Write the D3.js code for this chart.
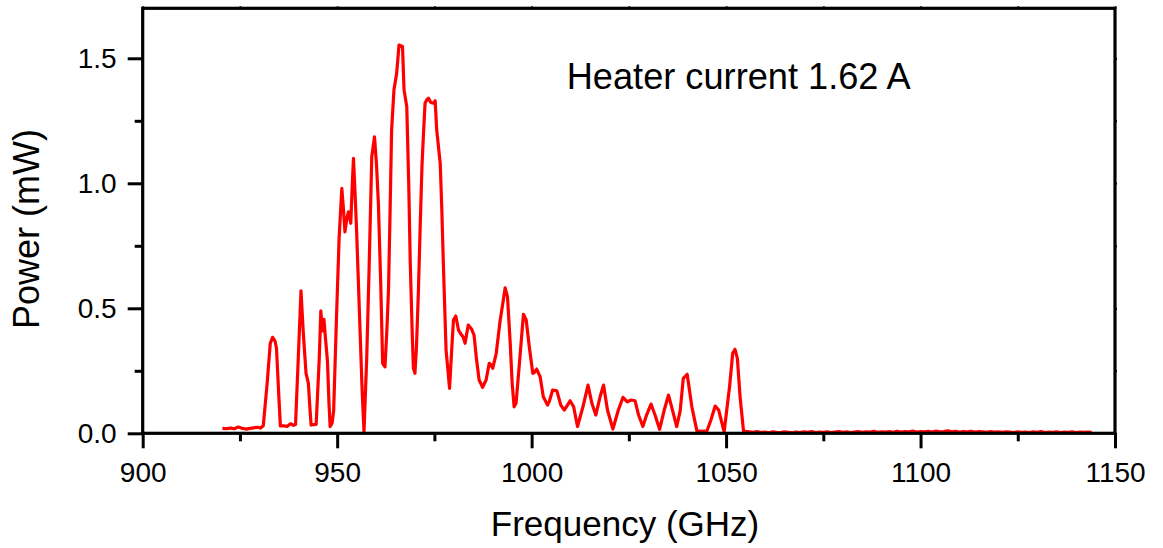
<!DOCTYPE html>
<html>
<head>
<meta charset="utf-8">
<script src="https://cdn.jsdelivr.net/npm/d3@7/dist/d3.min.js"></script>
<style>
  html, body { margin: 0; padding: 0; background: #fff; }
  svg { display: block; font-family: "Liberation Sans", Arial, sans-serif; }
</style>
</head>
<body>
<svg id="chart" width="1163" height="548"></svg>
<script>
// ---- data ----
const freqGHz = [
  920.5, 921.5, 922.7, 923.5, 924.6, 925.5, 926.5, 927.6, 928.5, 929.5, 930.3, 931.0,
  932.0, 932.8, 933.4, 934.0, 934.4, 935.0, 935.4, 936.3, 937.2, 938.0, 938.8, 939.3,
  940.0, 940.7, 941.3, 942.0, 942.6, 943.0, 943.3, 944.0, 944.6, 945.4, 945.8, 946.2,
  946.6, 947.0, 947.5, 947.9, 948.2, 948.7, 949.1, 949.8, 950.5, 951.2, 951.6, 952.0,
  952.5, 952.9, 953.5, 953.9, 954.2, 954.6, 955.0, 955.8, 956.4, 956.9, 957.6, 958.2,
  958.9, 959.6, 960.1, 960.6, 961.2, 961.7, 962.3, 962.8, 963.2, 963.6, 964.0, 964.6,
  965.3, 965.9, 966.8, 967.2, 967.9, 968.4, 968.8, 969.3, 969.6, 970.0, 970.4, 970.9,
  971.3, 971.8, 972.2, 972.6, 973.1, 973.5, 974.0, 974.3, 974.8, 975.2, 975.6, 976.5,
  976.9, 977.3, 978.0, 978.5, 978.9, 979.4, 979.9, 980.5, 981.2, 982.0, 982.4, 982.9,
  983.7, 984.6, 985.2, 985.8, 986.5, 987.4, 988.3, 989.1, 989.5, 990.0, 990.9, 991.9,
  992.6, 993.2, 993.8, 994.5, 995.0, 995.5, 996.0, 997.0, 997.9, 998.6, 999.4, 1000.3,
  1000.8, 1001.3, 1002.2, 1003.0, 1004.1, 1004.6, 1005.4, 1006.5, 1007.5, 1008.4, 1009.3, 1009.9,
  1010.8, 1011.8, 1013.2, 1014.5, 1015.5, 1016.5, 1017.6, 1018.5, 1019.5, 1020.9, 1022.3, 1023.5,
  1024.6, 1025.6, 1026.6, 1027.5, 1028.6, 1029.6, 1030.7, 1031.8, 1032.9, 1034.1, 1035.2, 1036.1,
  1037.3, 1038.2, 1039.0, 1040.0, 1041.2, 1042.5, 1043.8, 1045.1, 1046.1, 1047.2, 1048.1, 1049.5,
  1050.9, 1051.7, 1052.3, 1052.9, 1053.6, 1054.5, 1055.0,
  1056, 1057, 1058, 1059, 1060, 1061, 1062, 1063, 1064, 1065, 1066, 1067, 1068, 1069, 1070,
  1071, 1072, 1073, 1074, 1075, 1076, 1077, 1078, 1079, 1080, 1081, 1082, 1083, 1084, 1085,
  1086, 1087, 1088, 1089, 1090, 1091, 1092, 1093, 1094, 1095, 1096, 1097, 1098, 1099, 1100,
  1101, 1102, 1103, 1104, 1105, 1106, 1107, 1108, 1109, 1110, 1111, 1112, 1113, 1114, 1115,
  1116, 1117, 1118, 1119, 1120, 1121, 1122, 1123, 1124, 1125, 1126, 1127, 1128, 1129, 1130,
  1131, 1132, 1133, 1134, 1135, 1136, 1137, 1138, 1139, 1140, 1141, 1142, 1143, 1144
];
const powerMW = [
  0.020, 0.019, 0.021, 0.018, 0.025, 0.020, 0.017, 0.020, 0.022, 0.024, 0.021, 0.030,
  0.200, 0.360, 0.384, 0.370, 0.340, 0.150, 0.030, 0.030, 0.028, 0.038, 0.032, 0.035,
  0.300, 0.570, 0.400, 0.240, 0.200, 0.100, 0.033, 0.035, 0.036, 0.300, 0.490, 0.410,
  0.456, 0.380, 0.290, 0.120, 0.027, 0.040, 0.090, 0.450, 0.780, 0.980, 0.900, 0.806,
  0.860, 0.886, 0.840, 1.000, 1.100, 0.960, 0.810, 0.450, 0.180, 0.006, 0.300, 0.650,
  1.106, 1.186, 1.080, 0.920, 0.600, 0.280, 0.266, 0.420, 0.573, 0.880, 1.213, 1.373,
  1.440, 1.553, 1.547, 1.373, 1.306, 1.000, 0.680, 0.400, 0.260, 0.240, 0.350, 0.573,
  0.800, 1.066, 1.200, 1.320, 1.335, 1.340, 1.325, 1.322, 1.320, 1.330, 1.213, 1.080,
  0.900, 0.680, 0.333, 0.250, 0.180, 0.320, 0.453, 0.469, 0.413, 0.393, 0.385, 0.360,
  0.433, 0.416, 0.393, 0.300, 0.213, 0.184, 0.213, 0.280, 0.275, 0.260, 0.320, 0.450,
  0.520, 0.582, 0.546, 0.360, 0.200, 0.106, 0.120, 0.306, 0.476, 0.453, 0.346, 0.240,
  0.245, 0.257, 0.226, 0.146, 0.113, 0.130, 0.173, 0.170, 0.113, 0.093, 0.115, 0.130,
  0.106, 0.027, 0.106, 0.193, 0.120, 0.073, 0.146, 0.193, 0.093, 0.017, 0.093, 0.144,
  0.126, 0.133, 0.130, 0.073, 0.027, 0.075, 0.117, 0.070, 0.016, 0.093, 0.153, 0.100,
  0.027, 0.090, 0.220, 0.236, 0.106, 0.010, 0.008, 0.010, 0.053, 0.109, 0.093, 0.006,
  0.187, 0.320, 0.336, 0.300, 0.146, 0.006, 0.008,
  0.006, 0.004, 0.007, 0.003, 0.005, 0.002, 0.006, 0.004, 0.003, 0.006, 0.004, 0.002, 0.005, 0.003, 0.006,
  0.004, 0.007, 0.003, 0.005, 0.004, 0.006, 0.003, 0.005, 0.007, 0.004, 0.006, 0.003, 0.005, 0.007, 0.004,
  0.006, 0.005, 0.008, 0.004, 0.006, 0.005, 0.007, 0.004, 0.008, 0.005, 0.007, 0.006, 0.009, 0.005, 0.007,
  0.006, 0.008, 0.005, 0.009, 0.006, 0.007, 0.010, 0.006, 0.008, 0.005, 0.007, 0.006, 0.008, 0.005, 0.007,
  0.006, 0.004, 0.007, 0.005, 0.006, 0.004, 0.006, 0.005, 0.003, 0.006, 0.004, 0.005, 0.003, 0.006, 0.004,
  0.007, 0.003, 0.005, 0.004, 0.006, 0.003, 0.005, 0.004, 0.006, 0.003, 0.005, 0.004, 0.005, 0.004
];
const xMajorTicks = [900, 950, 1000, 1050, 1100, 1150];
const xMinorTicks = [925, 975, 1025, 1075, 1125];
const yMajorTicks = [0.0, 0.5, 1.0, 1.5];
const yMinorTicks = [0.25, 0.75, 1.25];
const xLabel = "Frequency (GHz)";
const yLabel = "Power (mW)";
const annotation = "Heater current 1.62 A";

// ---- layout ----
const svg = d3.select("#chart");
const pLeft = 142.7, pRight = 1115, pTop = 8.3, pBottom = 433.3;
const x = d3.scaleLinear().domain([900, 1150]).range([pLeft, pRight]);
const y = d3.scaleLinear().domain([0, 1.7]).range([pBottom, pTop]);

const data = freqGHz.map((f, i) => ({ f, p: powerMW[i] }));

// data line
const line = d3.line().x(d => x(d.f)).y(d => y(d.p));
svg.append("path")
  .datum(data)
  .attr("fill", "none")
  .attr("stroke", "#ff0000")
  .attr("stroke-width", 3.2)
  .attr("stroke-linejoin", "round")
  .attr("d", line);

// bottom axis
const gx = svg.append("g").attr("transform", `translate(0,${pBottom})`)
  .call(d3.axisBottom(x).tickValues(xMajorTicks).tickSize(15).tickFormat(d3.format("d")));
gx.select(".domain").remove();
gx.selectAll(".tick line").attr("stroke", "#000").attr("stroke-width", 3);
gx.selectAll(".tick text").attr("font-size", 28).attr("fill", "#000")
  .attr("dy", null).attr("y", 49).attr("font-family", "Liberation Sans, Arial, sans-serif");
svg.append("g").attr("transform", `translate(0,${pBottom})`)
  .call(d3.axisBottom(x).tickValues(xMinorTicks).tickSize(8).tickFormat(""))
  .call(g => g.select(".domain").remove())
  .call(g => g.selectAll(".tick line").attr("stroke", "#000").attr("stroke-width", 3));

// left axis
const gy = svg.append("g").attr("transform", `translate(${pLeft},0)`)
  .call(d3.axisLeft(y).tickValues(yMajorTicks).tickSize(15).tickPadding(11).tickFormat(d3.format(".1f")));
gy.select(".domain").remove();
gy.selectAll(".tick line").attr("stroke", "#000").attr("stroke-width", 3);
gy.selectAll(".tick text").attr("font-size", 28).attr("fill", "#000")
  .attr("font-family", "Liberation Sans, Arial, sans-serif");
svg.append("g").attr("transform", `translate(${pLeft},0)`)
  .call(d3.axisLeft(y).tickValues(yMinorTicks).tickSize(8).tickFormat(""))
  .call(g => g.select(".domain").remove())
  .call(g => g.selectAll(".tick line").attr("stroke", "#000").attr("stroke-width", 3));

// tiny mirrored ticks on top and right
svg.append("g").attr("transform", `translate(0,${pTop})`)
  .call(d3.axisTop(x).tickValues(xMajorTicks.concat(xMinorTicks)).tickSize(2).tickFormat(""))
  .call(g => g.select(".domain").remove())
  .call(g => g.selectAll(".tick line").attr("stroke", "#000").attr("stroke-width", 2));
svg.append("g").attr("transform", `translate(${pRight},0)`)
  .call(d3.axisRight(y).tickValues(yMajorTicks.concat(yMinorTicks)).tickSize(2).tickFormat(""))
  .call(g => g.select(".domain").remove())
  .call(g => g.selectAll(".tick line").attr("stroke", "#000").attr("stroke-width", 2));

// frame
svg.append("rect")
  .attr("x", pLeft).attr("y", pTop)
  .attr("width", pRight - pLeft).attr("height", pBottom - pTop)
  .attr("fill", "none").attr("stroke", "#000").attr("stroke-width", 3.2);

// labels
svg.append("text")
  .attr("x", 625).attr("y", 535.7)
  .attr("text-anchor", "middle").attr("font-size", 35).attr("fill", "#000")
  .text(xLabel);
svg.append("text")
  .attr("transform", "translate(39.3,229) rotate(-90)")
  .attr("text-anchor", "middle").attr("font-size", 36).attr("fill", "#000")
  .text(yLabel);
svg.append("text")
  .attr("x", 566.7).attr("y", 89)
  .attr("font-size", 36.2).attr("fill", "#000")
  .text(annotation);
</script>
</body>
</html>
